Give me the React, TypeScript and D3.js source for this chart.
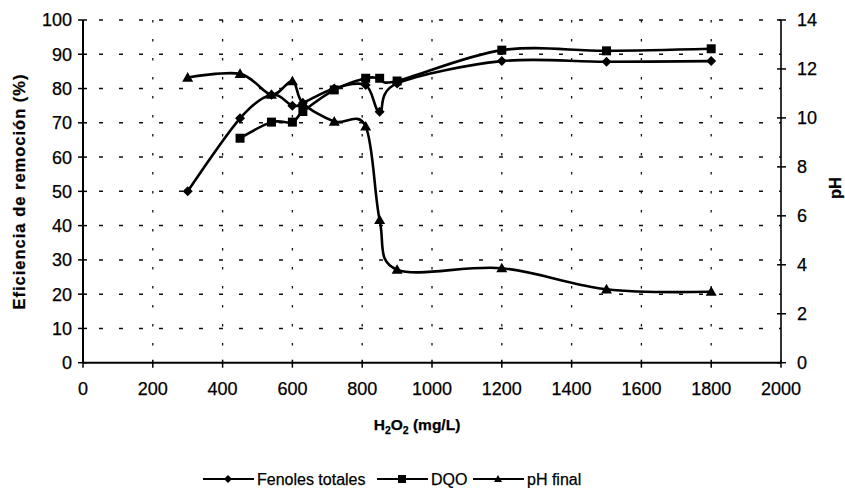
import React from "react";
import * as d3 from "d3";

const doses = [300, 450, 540, 600, 630, 720, 810, 850, 900, 1200, 1500, 1800];
const fenoles = [50, 71.3, 78.2, 75, 75.8, 80, 81, 73.2, 81.5, 88, 87.8, 88];
const dqoDoses = [450, 540, 600, 630, 720, 810, 850, 900, 1200, 1500, 1800];
const dqo = [65.5, 70.2, 70.2, 73.3, 79.6, 83, 83, 82.2, 91.2, 91, 91.6];
const phFinal = [11.65, 11.8, 10.95, 11.5, 10.6, 9.85, 9.65, 5.83, 3.8, 3.86, 3.0, 2.9];

const xTicks = [0, 200, 400, 600, 800, 1000, 1200, 1400, 1600, 1800, 2000];
const yLeftTicks = [0, 10, 20, 30, 40, 50, 60, 70, 80, 90, 100];
const yRightTicks = [0, 2, 4, 6, 8, 10, 12, 14];

const W = 845;
const H = 488;
const L = 83, R = 781, T = 20, B = 362.7;
const FONT = "'Liberation Sans', Arial, Helvetica, sans-serif";

const x = d3.scaleLinear().domain([0, 2000]).range([L, R]);
const yL = d3.scaleLinear().domain([0, 100]).range([B, T]);
const yR = d3.scaleLinear().domain([0, 14]).range([B, T]);

type Pt = [number, number];
const line = d3.line<Pt>().curve(d3.curveCatmullRom.alpha(0));

const diamond = (cx: number, cy: number, s = 5) =>
  `M${cx},${cy - s}L${cx + s},${cy}L${cx},${cy + s}L${cx - s},${cy}Z`;
const square = (cx: number, cy: number, s = 4.5) =>
  `M${cx - s},${cy - s}H${cx + s}V${cy + s}H${cx - s}Z`;
const triangle = (cx: number, cy: number, s = 5.5) =>
  `M${cx},${cy - s}L${cx + s},${cy + s * 0.75}L${cx - s},${cy + s * 0.75}Z`;

export default function App() {
  const fenPts: Pt[] = doses.map((d, i) => [x(d), yL(fenoles[i])]);
  const dqoPts: Pt[] = dqoDoses.map((d, i) => [x(d), yL(dqo[i])]);
  const phPts: Pt[] = doses.map((d, i) => [x(d), yR(phFinal[i])]);

  const legendY = 479;
  const legend = [
    { x0: 203, label: "Fenoles totales", mk: diamond },
    { x0: 377, label: "DQO", mk: square },
    { x0: 473, label: "pH final", mk: triangle },
  ];

  const txt = { fontFamily: FONT, fill: "#000", stroke: "#000", strokeWidth: 0.25 };

  return (
    <svg
      width={W}
      height={H}
      viewBox={`0 0 ${W} ${H}`}
      style={{ position: "absolute", left: 0, top: 0, background: "#fff" }}
    >
      <rect x={0} y={0} width={W} height={H} fill="#fff" />
      {/* horizontal dashed grid */}
      {yLeftTicks.filter((t) => t > 0).map((t) => (
        <line
          key={"h" + t}
          x1={L}
          x2={R}
          y1={yL(t)}
          y2={yL(t)}
          stroke="#111"
          strokeWidth={1.5}
          strokeDasharray="4 16"
          strokeDashoffset={-16}
        />
      ))}
      {/* vertical dotted grid */}
      {xTicks.filter((t) => t > 0 && t < 2000).map((t) => (
        <line
          key={"v" + t}
          x1={x(t)}
          x2={x(t)}
          y1={T}
          y2={B}
          stroke="#111"
          strokeWidth={1.3}
          strokeDasharray="2.5 16.5"
        />
      ))}
      {/* axes */}
      <line x1={L} x2={L} y1={T} y2={B} stroke="#000" strokeWidth={2} />
      <line x1={R} x2={R} y1={T} y2={B} stroke="#000" strokeWidth={1.6} />
      <line x1={L} x2={R} y1={B} y2={B} stroke="#000" strokeWidth={2} />
      {yLeftTicks.map((t) => (
        <g key={"yl" + t}>
          <line x1={L - 5} x2={L + 4} y1={yL(t)} y2={yL(t)} stroke="#000" strokeWidth={1.5} />
          <text x={72} y={yL(t)} dy="0.36em" textAnchor="end" fontSize={18} {...txt}>
            {t}
          </text>
        </g>
      ))}
      {yRightTicks.map((t) => (
        <g key={"yr" + t}>
          <line x1={R - 4} x2={R + 5} y1={yR(t)} y2={yR(t)} stroke="#000" strokeWidth={1.5} />
          <text x={797} y={yR(t)} dy="0.36em" textAnchor="start" fontSize={18} {...txt}>
            {t}
          </text>
        </g>
      ))}
      {xTicks.map((t) => (
        <g key={"x" + t}>
          <line x1={x(t)} x2={x(t)} y1={B - 3} y2={B + 5} stroke="#000" strokeWidth={1.5} />
          <text x={x(t)} y={395} textAnchor="middle" fontSize={18} {...txt}>
            {t}
          </text>
        </g>
      ))}
      {/* axis titles */}
      <text
        transform="translate(25,192) rotate(-90)"
        textAnchor="middle"
        fontSize={16.5}
        fontWeight="bold"
        textLength={235}
        lengthAdjust="spacing"
        {...txt}
      >
        Eficiencia de remoción (%)
      </text>
      <text
        transform="translate(841,188) rotate(-90)"
        textAnchor="middle"
        fontSize={16.5}
        fontWeight="bold"
        {...txt}
      >
        pH
      </text>
      <text x={417} y={430} textAnchor="middle" fontSize={15.5} fontWeight="bold" {...txt}>
        H<tspan fontSize={10.5} dy={4}>2</tspan>
        <tspan dy={-4}>O</tspan>
        <tspan fontSize={10.5} dy={4}>2</tspan>
        <tspan dy={-4}> (mg/L)</tspan>
      </text>
      {/* series */}
      <path d={line(fenPts) || ""} fill="none" stroke="#000" strokeWidth={2.6} />
      <path d={line(dqoPts) || ""} fill="none" stroke="#000" strokeWidth={2.6} />
      <path d={line(phPts) || ""} fill="none" stroke="#000" strokeWidth={2.6} />
      {fenPts.map((p, i) => (
        <path key={"f" + i} d={diamond(p[0], p[1])} fill="#000" />
      ))}
      {dqoPts.map((p, i) => (
        <path key={"d" + i} d={square(p[0], p[1])} fill="#000" />
      ))}
      {phPts.map((p, i) => (
        <path key={"p" + i} d={triangle(p[0], p[1])} fill="#000" />
      ))}
      {/* legend */}
      {legend.map((it) => (
        <g key={it.label}>
          <line x1={it.x0} x2={it.x0 + 51} y1={legendY} y2={legendY} stroke="#000" strokeWidth={2} />
          <path d={it.mk(it.x0 + 25, legendY, 4)} fill="#000" />
          <text x={it.x0 + 54} y={legendY} dy="0.36em" fontSize={16} {...txt}>
            {it.label}
          </text>
        </g>
      ))}
    </svg>
  );
}
